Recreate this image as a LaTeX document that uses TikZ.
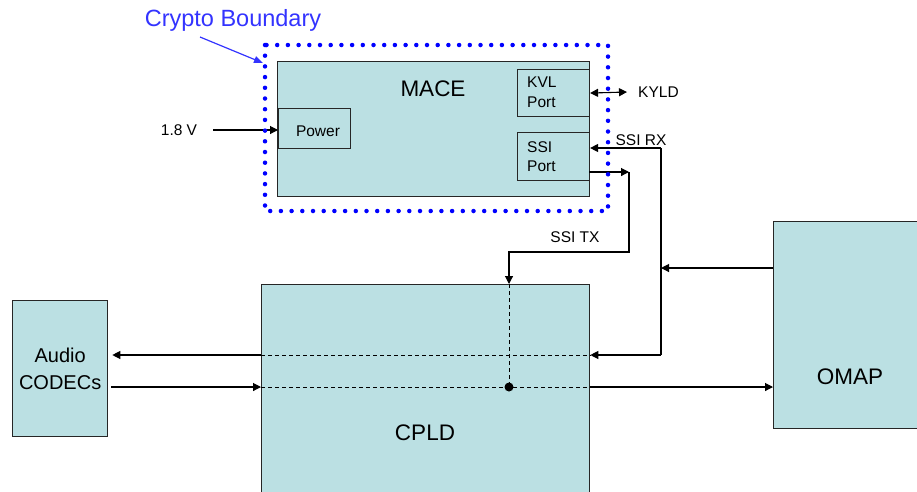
\documentclass[tikz,border=0pt]{standalone}
\usepackage{fontspec}
\setmainfont{Liberation Sans}
\usetikzlibrary{arrows.meta}
\definecolor{boxfill}{RGB}{187,224,227}
\definecolor{cryptoblue}{RGB}{51,51,255}
\tikzset{
  blk/.style={draw=black!85, line width=1.3pt, fill=boxfill, anchor=north west, inner sep=0pt},
  port/.style={draw=black!85, line width=1.1pt, fill=boxfill, anchor=north west, inner sep=0pt},
  small/.style={font=\fontsize{15.5}{20}\selectfont, inner sep=0pt},
  big/.style={font=\fontsize{22.5}{26}\selectfont, inner sep=0pt},
  conn/.style={line width=1.1pt, draw=black},
  arr/.style={conn, -{Triangle[length=8pt,width=8pt]}},
  dbl/.style={conn, {Triangle[length=8pt,width=8pt]}-{Triangle[length=8pt,width=8pt]}},
  dsh/.style={line width=1pt, draw=black, dash pattern=on 4pt off 3pt},
  boundary/.style={draw=blue, line width=4.5pt, line cap=round, dash pattern=on 0pt off 10.7pt},
}
\begin{document}
\begin{tikzpicture}[x=1pt,y=-1pt]
\useasboundingbox (0,0) rectangle (917,491);
\clip (0,0) rectangle (917,491);

% boxes
\node[blk, minimum width=312pt, minimum height=135pt] (mace) at (277,61) {};
\node[big] (macet) at (433,89) {MACE};
\node[port, minimum width=72pt, minimum height=47pt] (kvl) at (517,69) {};
\node[small, align=left, anchor=west] (kvlt) at (527,92.5) {KVL\\Port};
\node[port, minimum width=72pt, minimum height=48pt] (ssi) at (517,132) {};
\node[small, align=left, anchor=west, font=\fontsize{15.5}{19.5}\selectfont] (ssit) at (527,156.5) {SSI\\Port};
\node[port, minimum width=72pt, minimum height=40pt] (power) at (278,108) {};
\node[small] (powert) at (318,131) {Power};

\node[blk, minimum width=328pt, minimum height=300pt] (cpld) at (261,284) {};
\node[big] (cpldt) at (425,433) {CPLD};
\node[blk, minimum width=95pt, minimum height=136pt, align=center,
      font=\fontsize{20}{26.7}\selectfont] (audio) at (12,300) {Audio\\CODECs};
\node[blk, minimum width=160pt, minimum height=207pt] (omap) at (773,221) {};
\node[big] (omapt) at (850,377) {OMAP};

% labels
\node[small] (v18) at (179,130) {1.8 V};
\node[small, anchor=west] (kyld) at (638,92) {KYLD};
\node[small] (ssirx) at (641,140) {SSI RX};
\node[small] (ssitx) at (575,237) {SSI TX};
\node[font=\fontsize{23.5}{28}\selectfont, text=cryptoblue, inner sep=0pt] (crypto) at (233,20) {Crypto Boundary};

% coordinates
\coordinate (rxtop) at (661,148);
\coordinate (rxmid) at (661,268);
\coordinate (rxbot) at (661,355);
\coordinate (txa) at (589,172);
\coordinate (txb) at (629,172);
\coordinate (txc) at (509,252);
\coordinate (inA) at (261,355);
\coordinate (inB) at (261,387);
\coordinate (dot) at (509,387);
\coordinate (vin) at (213,130);

% connectors
\draw[arr] (vin) -- (power.west |- vin);
\draw[dbl] (kvl.east) -- ([xshift=-11pt]kyld.west);
\draw[conn] (rxtop) -- (rxbot);
\draw[arr] (rxtop) -- (ssi.east |- rxtop);
\draw[arr] (rxbot) -- (cpld.east |- rxbot);
\draw[arr] (omap.west |- rxmid) -- (rxmid);
\draw[arr] (txa) -- (txb);
\draw[arr] (txb) |- (txc) -- (txc |- cpld.north);
\draw[arr, shorten >=4pt] (inA) -- (audio.east |- inA);
\draw[arr] ([xshift=3pt]audio.east |- inB) -- (inB);
\draw[arr] (cpld.east |- dot) -- (omap.west |- dot);

% dashed internal lines
\draw[dsh] (txc |- cpld.north) -- (dot);
\draw[dsh] (inA) -- (cpld.east |- inA);
\draw[dsh] (inB) -- (cpld.east |- inB);
\fill (dot) circle (4.5pt);

% crypto boundary
\draw[boundary] (265,45) rectangle (608,211);
\draw[cryptoblue, line width=1.2pt, -{Triangle[length=9pt,width=7pt]}] (200,37) -- (263,63);
\end{tikzpicture}
\end{document}
